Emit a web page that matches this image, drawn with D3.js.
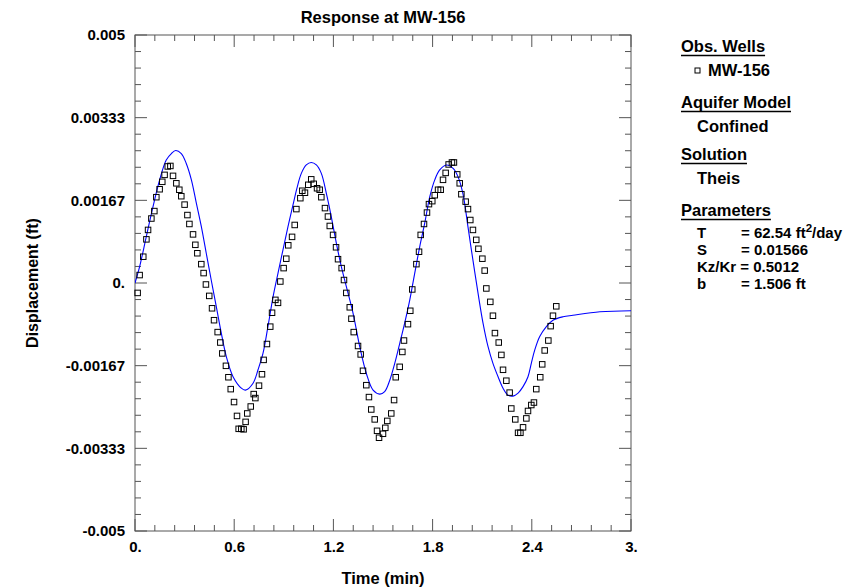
<!DOCTYPE html>
<html>
<head>
<meta charset="utf-8">
<script src="https://cdn.jsdelivr.net/npm/d3@7"></script>
<style>
  html, body { margin: 0; padding: 0; background: #fff; }
  svg text { font-family: Arial, "Liberation Sans", sans-serif; font-weight: bold; fill: #000; }
</style>
</head>
<body>
<svg id="chart" width="861" height="588"></svg>
<script>
// ---- Data ----
const obsTime = [0.016,0.028,0.050,0.069,0.079,0.099,0.117,0.129,0.149,0.165,0.179,0.198,0.214,0.230,0.250,0.268,0.280,0.300,0.317,0.329,
  0.351,0.365,0.377,0.401,0.415,0.429,0.449,0.466,0.478,0.500,0.516,0.528,0.550,0.565,0.579,0.599,0.617,0.627,0.643,0.657,
  0.669,0.679,0.700,0.718,0.728,0.750,0.768,0.778,0.798,0.818,0.829,0.849,0.865,0.879,0.899,0.915,0.927,0.950,0.966,0.976,
  1.000,1.012,1.028,1.048,1.066,1.081,1.101,1.117,1.127,1.149,1.167,1.178,1.198,1.216,1.228,1.250,1.264,1.278,1.299,1.309,
  1.323,1.349,1.365,1.379,1.399,1.415,1.429,1.450,1.464,1.476,1.500,1.514,1.526,1.550,1.567,1.577,1.601,1.617,1.627,1.651,
  1.665,1.677,1.702,1.718,1.728,1.748,1.766,1.778,1.798,1.813,1.833,1.849,1.863,1.879,1.897,1.917,1.929,1.949,1.964,1.974,
  2.000,2.014,2.028,2.044,2.064,2.077,2.101,2.115,2.125,2.149,2.165,2.177,2.200,2.216,2.226,2.246,2.266,2.276,2.300,2.317,
  2.331,2.347,2.367,2.377,2.397,2.413,2.427,2.451,2.463,2.478,2.500,2.514,2.528,2.548];
const obsDisp = [-0.00020,0.00016,0.00053,0.00088,0.00107,0.00130,0.00145,0.00173,0.00189,0.00204,0.00218,0.00235,0.00236,0.00216,0.00201,0.00188,0.00175,0.00158,0.00137,0.00119,
  0.00098,0.00077,0.00060,0.00038,0.00020,-0.00003,-0.00026,-0.00051,-0.00075,-0.00099,-0.00120,-0.00142,-0.00167,-0.00190,-0.00214,-0.00240,-0.00268,-0.00294,-0.00294,-0.00295,
  -0.00280,-0.00263,-0.00249,-0.00224,-0.00232,-0.00207,-0.00184,-0.00155,-0.00123,-0.00088,-0.00060,-0.00034,-0.00040,0.00003,0.00030,0.00049,0.00076,0.00093,0.00117,0.00149,
  0.00171,0.00186,0.00182,0.00198,0.00209,0.00200,0.00191,0.00188,0.00173,0.00151,0.00134,0.00115,0.00097,0.00072,0.00048,0.00030,0.00006,-0.00020,-0.00049,-0.00072,
  -0.00099,-0.00127,-0.00144,-0.00177,-0.00206,-0.00230,-0.00255,-0.00275,-0.00298,-0.00312,-0.00304,-0.00292,-0.00278,-0.00263,-0.00236,-0.00190,-0.00169,-0.00139,-0.00116,-0.00083,
  -0.00056,-0.00013,0.00038,0.00063,0.00097,0.00119,0.00142,0.00159,0.00165,0.00177,0.00188,0.00188,0.00208,0.00222,0.00239,0.00243,0.00243,0.00219,0.00201,0.00179,
  0.00164,0.00149,0.00127,0.00107,0.00087,0.00069,0.00049,0.00025,-0.00011,-0.00038,-0.00066,-0.00101,-0.00120,-0.00145,-0.00175,-0.00197,-0.00221,-0.00253,-0.00275,-0.00302,
  -0.00302,-0.00291,-0.00273,-0.00258,-0.00246,-0.00241,-0.00214,-0.00190,-0.00164,-0.00136,-0.00116,-0.00087,-0.00066,-0.00047];

const curveTime = [0,0.028,0.068,0.109,0.149,0.189,0.220,0.246,0.280,0.310,0.341,0.371,0.401,0.431,0.461,0.492,0.522,0.552,0.593,0.643,
  0.668,0.714,0.744,0.774,0.804,0.835,0.865,0.895,0.925,0.956,0.980,1.006,1.036,1.066,1.097,1.127,1.157,1.187,1.218,1.248,
  1.278,1.319,1.359,1.399,1.440,1.480,1.510,1.541,1.571,1.601,1.631,1.662,1.692,1.722,1.752,1.783,1.813,1.843,1.883,1.924,
  1.954,1.984,2.014,2.044,2.075,2.105,2.135,2.165,2.196,2.226,2.256,2.286,2.317,2.347,2.377,2.397,2.418,2.448,2.488,2.528,
  2.589,2.649,2.812,3.000];
const curveDisp = [0,0.00033,0.00093,0.00154,0.00208,0.00248,0.00261,0.00267,0.00261,0.00241,0.00208,0.00161,0.00114,0.00060,0.00006,-0.00048,-0.00101,-0.00148,-0.00189,-0.00212,
  -0.00216,-0.00202,-0.00175,-0.00142,-0.00088,-0.00028,0.00020,0.00067,0.00113,0.00158,0.00192,0.00221,0.00238,0.00243,0.00238,0.00221,0.00181,0.00134,0.00080,0.00033,
  -0.00007,-0.00061,-0.00128,-0.00182,-0.00216,-0.00224,-0.00219,-0.00196,-0.00162,-0.00122,-0.00081,-0.00034,0.00020,0.00073,0.00120,0.00174,0.00208,0.00228,0.00238,0.00231,
  0.00214,0.00179,0.00113,0.00046,-0.00021,-0.00081,-0.00128,-0.00162,-0.00189,-0.00212,-0.00226,-0.00228,-0.00222,-0.00209,-0.00189,-0.00162,-0.00135,-0.00108,-0.00088,-0.00075,
  -0.00068,-0.00065,-0.00058,-0.00056];

const xTickValues = [0, 0.6, 1.2, 1.8, 2.4, 3.0];
const xTickLabels = ["0.", "0.6", "1.2", "1.8", "2.4", "3."];
const yTickValues = [-0.005, -0.005 + 0.01/6, -0.005 + 0.02/6, 0, 0.005 - 0.02/6, 0.005 - 0.01/6, 0.005];
const yTickLabels = ["-0.005", "-0.00333", "-0.00167", "0.", "0.00167", "0.00333", "0.005"];

const legendParams = [
  ["T", "= 62.54 ft", "2", "/day"],
  ["S", "= 0.01566"],
  ["Kz/Kr", "= 0.5012"],
  ["b", "= 1.506 ft"]
];

// ---- Layout ----
const L = 135, R = 631, T = 35, B = 531;
const svg = d3.select("#chart");
const x = d3.scaleLinear().domain([0, 3]).range([L, R]);
const y = d3.scaleLinear().domain([-0.005, 0.005]).range([B, T]);
const frameColor = "#555";
const FONT = "Arial, 'Liberation Sans', sans-serif";

svg.append("defs").append("clipPath").attr("id", "clip")
  .append("rect").attr("x", L).attr("y", T).attr("width", R - L).attr("height", B - T);

// ticks (inward on all four sides)
const xMinor = d3.range(0, 26).map(i => i * 0.12);
const yMinor = d3.range(0, 31).map(i => -0.005 + i * 0.01 / 30);
const isMajX = v => xTickValues.some(m => Math.abs(m - v) < 1e-6);
const isMajY = v => yTickValues.some(m => Math.abs(m - v) < 1e-9);

const gTicks = svg.append("g").attr("stroke", frameColor);
xMinor.forEach(v => {
  const len = isMajX(v) ? 12 : 6;
  gTicks.append("line").attr("x1", x(v)).attr("x2", x(v)).attr("y1", B).attr("y2", B - len);
  gTicks.append("line").attr("x1", x(v)).attr("x2", x(v)).attr("y1", T).attr("y2", T + len);
});
yMinor.forEach(v => {
  const len = isMajY(v) ? 12 : 6;
  gTicks.append("line").attr("y1", y(v)).attr("y2", y(v)).attr("x1", L).attr("x2", L + len);
  gTicks.append("line").attr("y1", y(v)).attr("y2", y(v)).attr("x1", R).attr("x2", R - len);
});

svg.append("rect").attr("x", L).attr("y", T).attr("width", R - L).attr("height", B - T)
  .attr("fill", "none").attr("stroke", frameColor).attr("stroke-width", 1);

// tick labels via d3 axes
const gx = svg.append("g").attr("transform", `translate(0,${B})`)
  .call(d3.axisBottom(x).tickValues(xTickValues).tickFormat((d, i) => xTickLabels[i]).tickSize(0).tickPadding(10));
gx.select(".domain").remove();
gx.selectAll("text").attr("font-size", 15).attr("font-family", FONT).attr("font-weight", "bold");

const gy = svg.append("g").attr("transform", `translate(${L},0)`)
  .call(d3.axisLeft(y).tickValues(yTickValues).tickFormat((d, i) => yTickLabels[i]).tickSize(0).tickPadding(10));
gy.select(".domain").remove();
gy.selectAll("text").attr("font-size", 15).attr("font-family", FONT).attr("font-weight", "bold");

// titles
svg.append("text").attr("x", (L + R) / 2).attr("y", 23).attr("text-anchor", "middle")
  .attr("font-size", 16.5).text("Response at MW-156");
svg.append("text").attr("x", (L + R) / 2).attr("y", 584).attr("text-anchor", "middle")
  .attr("font-size", 16.5).text("Time (min)");
svg.append("text").attr("transform", `translate(38,${(T + B) / 2}) rotate(-90)`).attr("text-anchor", "middle")
  .attr("font-size", 16).text("Displacement (ft)");

// curve
const curveData = curveTime.map((t, i) => [t, curveDisp[i]]);
svg.append("path").datum(curveData).attr("clip-path", "url(#clip)")
  .attr("fill", "none").attr("stroke", "#0000ff").attr("stroke-width", 1.1)
  .attr("d", d3.line().x(d => x(d[0])).y(d => y(d[1])).curve(d3.curveCatmullRom.alpha(0.5)));

// observations
const obsData = obsTime.map((t, i) => [t, obsDisp[i]]);
const ms = 5.5;
svg.append("g").selectAll("rect").data(obsData).join("rect")
  .attr("x", d => x(d[0]) - ms / 2).attr("y", d => y(d[1]) - ms / 2)
  .attr("width", ms).attr("height", ms)
  .attr("fill", "none").attr("stroke", "#000").attr("stroke-width", 1);

// legend
const lg = svg.append("g");
const hx = 681, ix = 697, ex = 741, LF = 16.5, PF = 15;
function header(txt, yb) {
  const t = lg.append("text").attr("x", hx).attr("y", yb).attr("font-size", LF).text(txt);
  const w = t.node().getComputedTextLength();
  lg.append("line").attr("x1", hx).attr("x2", hx + w).attr("y1", yb + 3.5).attr("y2", yb + 3.5)
    .attr("stroke", "#000").attr("stroke-width", 1.3);
}
header("Obs. Wells", 52);
lg.append("rect").attr("x", ix - 2).attr("y", 68).attr("width", 5).attr("height", 5)
  .attr("fill", "none").attr("stroke", "#000").attr("stroke-width", 1);
lg.append("text").attr("x", 708).attr("y", 76).attr("font-size", LF).text("MW-156");
header("Aquifer Model", 108);
lg.append("text").attr("x", ix).attr("y", 132).attr("font-size", LF).text("Confined");
header("Solution", 160);
lg.append("text").attr("x", ix).attr("y", 184).attr("font-size", LF).text("Theis");
header("Parameters", 216);
legendParams.forEach((p, i) => {
  const yb = 238 + i * 17;
  if (p[0].length > 1) {
    lg.append("text").attr("x", ix).attr("y", yb).attr("font-size", PF).text(p[0] + " " + p[1]);
    return;
  }
  lg.append("text").attr("x", ix).attr("y", yb).attr("font-size", PF).text(p[0]);
  const t = lg.append("text").attr("x", ex).attr("y", yb).attr("font-size", PF);
  t.append("tspan").text(p[1]);
  if (p.length > 2) {
    t.append("tspan").attr("dy", -6).attr("font-size", 11.5).text(p[2]);
    t.append("tspan").attr("dy", 6).attr("font-size", PF).text(p[3]);
  }
});
</script>
</body>
</html>
